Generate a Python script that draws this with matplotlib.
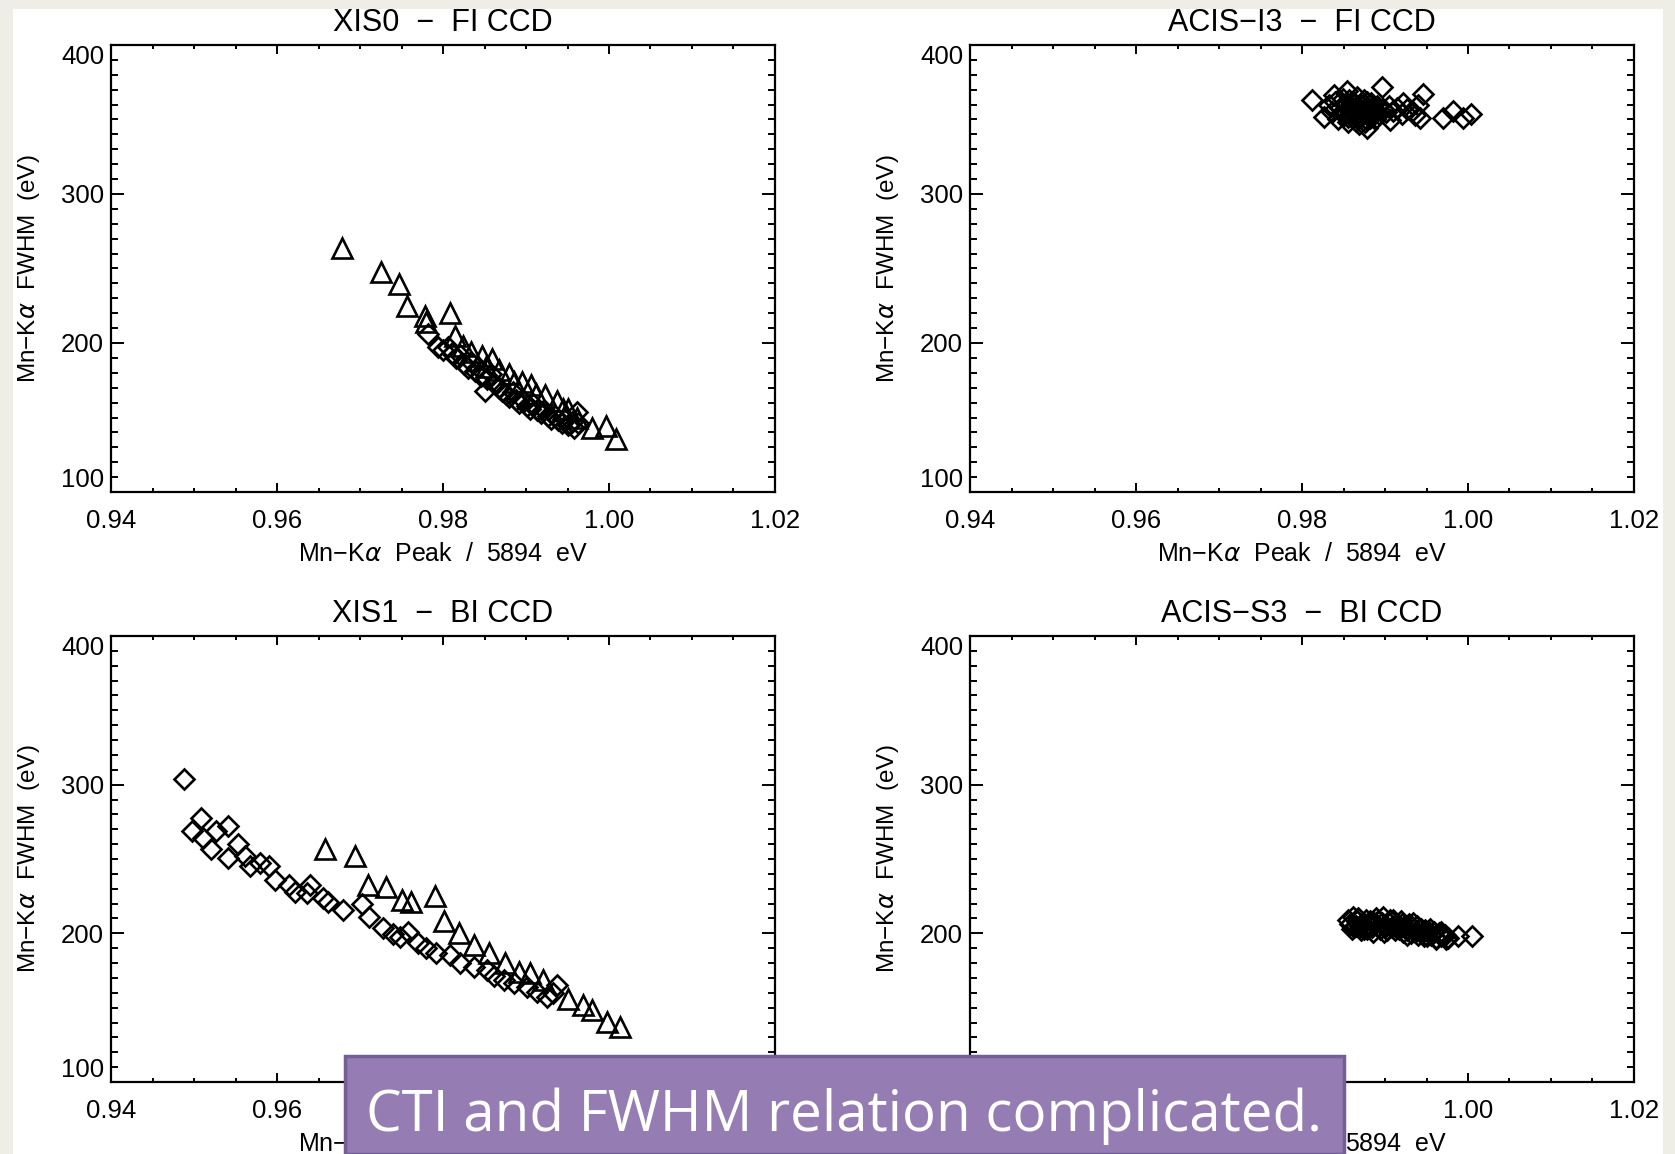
import matplotlib
matplotlib.use("Agg")
import matplotlib.pyplot as plt
from matplotlib.patches import Rectangle

# ---------------- data ----------------
xis0_tri_x = [0.9678, 0.9725, 0.9747, 0.9757, 0.9778, 0.9780, 0.9809, 0.9815, 0.9824, 0.9834,
              0.9847, 0.9859, 0.9852, 0.9868, 0.9880, 0.9886, 0.9895, 0.9906, 0.9912, 0.9923,
              0.9937, 0.9945, 0.9951, 0.9962, 0.9979, 0.9996, 1.0008]
xis0_tri_y = [263.7, 247.5, 239.6, 225.0, 218.0, 214.0, 220.0, 204.7, 198.0, 194.0,
              191.0, 189.0, 184.0, 182.0, 179.0, 174.0, 174.0, 172.0, 166.0, 165.0,
              161.0, 156.0, 156.0, 150.0, 143.0, 144.0, 135.5]
xis0_dia_x = [0.9782, 0.9794, 0.9800, 0.9806, 0.9811, 0.9816, 0.9821, 0.9825, 0.9830, 0.9834,
              0.9838, 0.9842, 0.9846, 0.9851, 0.9853, 0.9858, 0.9862, 0.9867, 0.9871, 0.9876,
              0.9880, 0.9884, 0.9888, 0.9892, 0.9897, 0.9901, 0.9905, 0.9909, 0.9913, 0.9918,
              0.9922, 0.9926, 0.9930, 0.9935, 0.9939, 0.9943, 0.9947, 0.9951, 0.9955, 0.9958,
              0.9961, 0.9963]
xis0_dia_y = [206, 197, 195, 197, 193, 190, 192, 186, 183, 187,
              181, 184, 178, 168, 176, 179, 173, 170, 168, 166,
              164, 167, 162, 160, 161, 158, 156, 159, 155, 153,
              155, 151, 149, 151, 148, 146, 149, 145, 147, 143,
              154, 146]

acis_i3_x = [0.9812, 0.9826, 0.9838, 0.9854, 0.9896, 0.9946, 0.9970, 0.9982, 0.9994, 1.0004,
             0.9942, 0.9940, 0.9906, 0.9922, 0.9878,
             0.9832, 0.9836, 0.9840, 0.9843, 0.9846, 0.9849, 0.9851, 0.9853, 0.9856, 0.9858,
             0.9860, 0.9862, 0.9864, 0.9866, 0.9868, 0.9869, 0.9871, 0.9873, 0.9875, 0.9877,
             0.9879, 0.9881, 0.9883, 0.9885, 0.9888, 0.9890, 0.9893, 0.9897, 0.9901, 0.9905,
             0.9910, 0.9915, 0.9920, 0.9926, 0.9932, 0.9936,
             0.9852, 0.9855, 0.9859, 0.9861, 0.9863, 0.9865, 0.9867, 0.9870, 0.9872, 0.9874,
             0.9876, 0.9878, 0.9880, 0.9882, 0.9884, 0.9886, 0.9889, 0.9857, 0.9866, 0.9875]
acis_i3_y = [363, 352, 366.6, 369, 371.5, 367, 351, 355.8, 350.8, 354,
             350.8, 360, 349.7, 361, 344,
             360, 355, 362, 350, 358, 364, 353, 360, 348, 356,
             362, 351, 358, 365, 354, 347, 360, 356, 363, 350,
             358, 353, 361, 356, 350, 359, 354, 357, 355, 359,
             356, 358, 354, 357, 356, 353,
             356, 352, 359, 354, 361, 349, 357, 352, 359, 355,
             348, 362, 356, 351, 358, 353, 356, 363, 352, 357]

xis1_dia_x = [0.9488, 0.9508, 0.9497, 0.9511, 0.9527, 0.9541, 0.9520, 0.9541, 0.9553, 0.9561,
              0.9567, 0.9580, 0.9590, 0.9598, 0.9614, 0.9622, 0.9640, 0.9636, 0.9656, 0.9662,
              0.9680, 0.9702, 0.9711, 0.9728, 0.9740, 0.9748, 0.9758, 0.9770, 0.9780, 0.9792,
              0.9808, 0.9820, 0.9837, 0.9853, 0.9861, 0.9873, 0.9885, 0.9901, 0.9913, 0.9925,
              0.9937, 0.9933]
xis1_dia_y = [303.8, 277.6, 269.0, 264.0, 268.5, 272.0, 256.7, 250.6, 260.0, 252.0,
              245.0, 247.0, 245.5, 236.0, 232.7, 228.0, 232.7, 227.0, 223.7, 221.4,
              216.0, 219.7, 211.0, 203.5, 199.4, 197.8, 201.0, 193.4, 190.0, 186.7,
              185.5, 180.0, 177.6, 175.4, 171.0, 168.7, 166.5, 164.0, 160.8, 157.4,
              165.0, 159.7]
xis1_tri_x = [0.9658, 0.9694, 0.9710, 0.9731, 0.9750, 0.9762, 0.9790, 0.9801, 0.9819, 0.9837,
              0.9855, 0.9875, 0.9891, 0.9905, 0.9921, 0.9951, 0.9969, 0.9979, 0.9997, 1.0013]
xis1_tri_y = [257.0, 252.0, 232.7, 231.5, 222.6, 221.4, 224.8, 208.0, 200.0, 192.0,
              186.7, 180.0, 174.0, 173.0, 168.7, 156.0, 152.0, 148.5, 140.6, 137.0]

acis_s3_x = [0.9856, 0.9858, 0.9861, 0.9863, 0.9866, 0.9868, 0.9870, 0.9873, 0.9875, 0.9877,
             0.9880, 0.9882, 0.9884, 0.9887, 0.9889, 0.9891, 0.9894, 0.9896, 0.9898, 0.9901,
             0.9903, 0.9905, 0.9908, 0.9910, 0.9912, 0.9915, 0.9917, 0.9919, 0.9922, 0.9924,
             0.9926, 0.9929, 0.9931, 0.9933, 0.9936, 0.9938, 0.9940, 0.9943, 0.9945, 0.9948,
             0.9950, 0.9953, 0.9956, 0.9959, 0.9962, 0.9965, 0.9968, 0.9972, 0.9976, 0.9988,
             1.0005,
             0.9860, 0.9865, 0.9871, 0.9878, 0.9885, 0.9892, 0.9899, 0.9906, 0.9913, 0.9920,
             0.9927, 0.9934, 0.9941, 0.9947, 0.9954, 0.9961, 0.9967, 0.9973]
acis_s3_y = [209, 206, 211, 204, 208, 210, 205, 207, 203, 209,
             206, 208, 204, 207, 210, 205, 203, 207, 211, 205,
             202, 207, 204, 209, 202, 206, 203, 208, 201, 205,
             202, 206, 200, 204, 201, 205, 199, 203, 200, 202,
             198, 201, 199, 201, 197, 200, 198, 199, 197, 198,
             198,
             203, 205, 202, 203, 201, 208, 201, 209, 204, 206,
             199, 207, 203, 198, 203, 196, 201, 196]

titles = ["XIS0  \u2212  FI CCD", "ACIS\u2212I3  \u2212  FI CCD",
          "XIS1  \u2212  BI CCD", "ACIS\u2212S3  \u2212  BI CCD"]
x_ticks = [0.94, 0.96, 0.98, 1.00, 1.02]
x_ticklabels = ["0.94", "0.96", "0.98", "1.00", "1.02"]
y_ticks = [100, 200, 300, 400]
xlabel = "Mn\u2212K$\\alpha$  Peak  /  5894  eV"
ylabel = "Mn\u2212K$\\alpha$  FWHM  (eV)"
overlay_text = "CTI and FWHM relation complicated."

# ---------------- figure ----------------
W, H = 1675, 1154
plt.rcParams['font.family'] = ['Liberation Sans', 'DejaVu Sans']
plt.rcParams['mathtext.fontset'] = 'dejavusans'
fig = plt.figure(figsize=(W / 100, H / 100), dpi=100)
fig.patch.set_facecolor('#EEEEE6')
# white slide-image area (behind everything)
fig.patches.append(Rectangle((13 / W, 0), (1663 - 13) / W, 1 - 9 / H,
                             transform=fig.transFigure, facecolor='white',
                             edgecolor='none', zorder=-10))

def px_axes(x0, y0, x1, y1):
    return [x0 / W, 1 - y1 / H, (x1 - x0) / W, (y1 - y0) / H]

rects = [px_axes(111, 45, 775, 492), px_axes(970, 45, 1634, 492),
         px_axes(111, 636, 775, 1082), px_axes(970, 636, 1634, 1082)]

axes = [fig.add_axes(r) for r in rects]

def style(ax, title):
    ax.set_xlim(0.94, 1.02)
    ax.set_ylim(100, 400)
    ax.set_xticks(x_ticks)
    ax.set_xticklabels(x_ticklabels)
    ax.set_xticks([0.94 + 0.005 * i for i in range(17)], minor=True)
    ax.set_yticks(y_ticks)
    ax.set_yticks(list(range(100, 401, 10)), minor=True)
    for s in ax.spines.values():
        s.set_linewidth(1.6)
    ax.tick_params(axis='both', which='both', direction='in', top=True, right=True,
                   width=1.4, colors='black')
    ax.tick_params(axis='x', which='major', length=6.5, pad=12, labelsize=18.5)
    ax.tick_params(axis='x', which='minor', length=3.2)
    ax.tick_params(axis='y', which='major', length=9.6, pad=5, labelsize=18.5)
    ax.tick_params(axis='y', which='minor', length=4.8)
    ax.set_title(title, fontsize=22, pad=10)
    ax.set_xlabel(xlabel, fontsize=18)
    ax.set_ylabel(ylabel, fontsize=17.5)
    ax.xaxis.set_label_coords(0.5, -0.138)
    ax.xaxis.label.set_verticalalignment('center')
    ax.yaxis.set_label_coords(-0.123, 0.5)
    ax.yaxis.label.set_verticalalignment('center')
    labs = ax.get_yticklabels()
    labs[0].set_verticalalignment('bottom')
    labs[-1].set_verticalalignment('top')

mk_d = dict(marker='D', markersize=10, markerfacecolor='none', markeredgecolor='black',
            markeredgewidth=1.9, linestyle='none')
mk_t = dict(marker='^', markersize=15, markerfacecolor='none', markeredgecolor='black',
            markeredgewidth=1.9, linestyle='none')

ax = axes[0]
ax.plot(xis0_dia_x, xis0_dia_y, **mk_d)
ax.plot(xis0_tri_x, xis0_tri_y, **mk_t)
ax = axes[1]
ax.plot(acis_i3_x, acis_i3_y, **mk_d)
ax = axes[2]
ax.plot(xis1_dia_x, xis1_dia_y, **mk_d)
ax.plot(xis1_tri_x, xis1_tri_y, **mk_t)
ax = axes[3]
ax.plot(acis_s3_x, acis_s3_y, **mk_d)

for a, t in zip(axes, titles):
    style(a, t)

# overlay caption box
box = Rectangle((345 / W, 0), (1344 - 345) / W, 1 - 1056 / H,
                transform=fig.transFigure, facecolor='#957CB2', edgecolor='#735F98',
                linewidth=2.5, zorder=10)
fig.patches.append(box)
fig.text(844 / W, 1 - 1116 / H, overlay_text, color='white', fontsize=40.7,
         family=['Open Sans', 'DejaVu Sans'], ha='center', va='center', zorder=11)

fig.savefig("out.png", dpi=100, facecolor=fig.get_facecolor())
